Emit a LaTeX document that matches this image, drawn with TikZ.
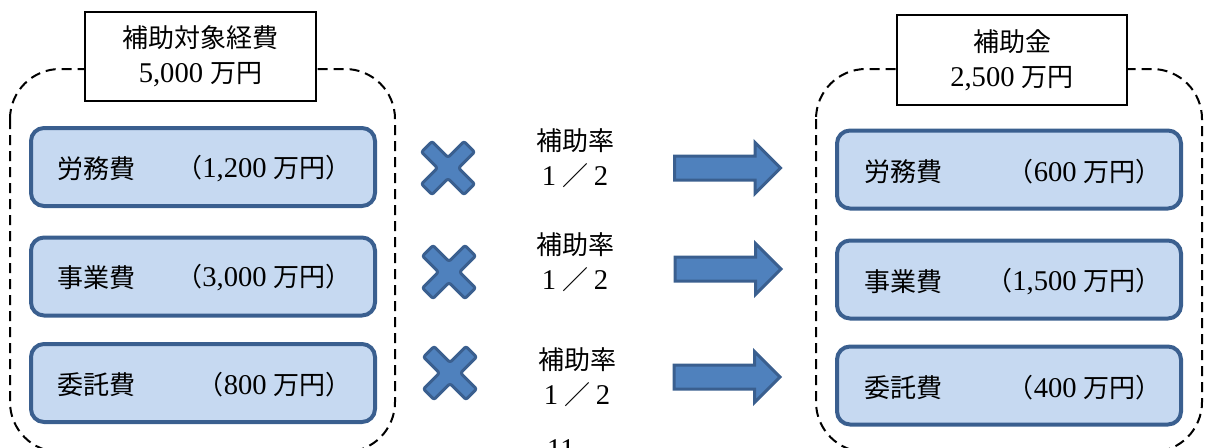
\documentclass[tikz,border=0pt]{standalone}
\usepackage{fontspec}
\setmainfont[Scale=1.1]{Liberation Serif}
\newfontfamily\cjk{Noto Sans CJK JP}
\definecolor{boxfill}{HTML}{C6D9F1}
\definecolor{boxline}{HTML}{3A5F8F}
\definecolor{shapefill}{HTML}{4F81BD}
\newcommand{\fw}[1]{\makebox[26pt]{#1}}
\begin{document}
\begin{tikzpicture}[x=1pt,y=-1pt,
  every node/.style={font=\fontsize{26}{35}\selectfont, inner sep=0pt},
  groupline/.style={draw=black, dash pattern=on 10pt off 6pt, line width=2pt, rounded corners=50pt},
  titlebox/.style={draw=black, fill=white, line width=1.8pt, minimum width=231pt, minimum height=89pt, align=center},
  itembox/.style={draw=boxline, fill=boxfill, line width=4pt, rounded corners=13pt, minimum width=344pt, minimum height=78pt},
  shapestyle/.style={draw=boxline, fill=shapefill, line width=3pt, line join=round, rounded corners=2pt},
  pics/mulmark/.style={code={
    \draw[shapestyle, rotate=45] (7.5,30) -- (7.5,7.5) -- (30,7.5) -- (30,-7.5) -- (7.5,-7.5) -- (7.5,-30)
      -- (-7.5,-30) -- (-7.5,-7.5) -- (-30,-7.5) -- (-30,7.5) -- (-7.5,7.5) -- (-7.5,30) -- cycle;}},
  pics/fatarrow/.style={code={
    \draw[shapestyle, rounded corners=0pt, line join=miter] (-53,-12) -- (27.5,-12) -- (27.5,-25.5) -- (53,0)
      -- (27.5,25.5) -- (27.5,12) -- (-53,12) -- cycle;}}
]
\useasboundingbox (0,0) rectangle (1212,447);
\clip (0,0) rectangle (1212,447);

% left group
\draw[groupline] (10,69) rectangle (395,452);
\node[titlebox] (ltitle) at (200.5,56.5) {{\cjk 補助対象経費}\\5,000 {\cjk 万円}};
\node[itembox] (l1) at (203,167) {};
\node[itembox] (l2) at (203,276.5) {};
\node[itembox] (l3) at (203,383) {};
\node[anchor=west] (l1a) at (57,169) {\cjk 労務費};
\node[anchor=east] (l1b) at (352,169) {{\cjk （}1,200 {\cjk 万円）}};
\node[anchor=west] (l2a) at (57,278) {\cjk 事業費};
\node[anchor=east] (l2b) at (352,278) {{\cjk （}3,000 {\cjk 万円）}};
\node[anchor=west] (l3a) at (57,385) {\cjk 委託費};
\node[anchor=east] (l3b) at (352,385) {{\cjk （}800 {\cjk 万円）}};

% multiply marks
\pic (m1) at (448,168) {mulmark};
\pic (m2) at (449,272) {mulmark};
\pic (m3) at (450,373) {mulmark};

% rates
\node[align=center] (r1) at (575,158) {{\cjk 補助率}\\\fw{1}{\cjk ／}\fw{2}};
\node[align=center] (r2) at (575,262) {{\cjk 補助率}\\\fw{1}{\cjk ／}\fw{2}};
\node[align=center] (r3) at (577,377) {{\cjk 補助率}\\\fw{1}{\cjk ／}\fw{2}};

% arrows
\pic (a1) at (727.5,168) {fatarrow};
\pic (a2) at (728,269) {fatarrow};
\pic (a3) at (727,377) {fatarrow};

% right group
\draw[groupline] (816,69) rectangle (1202,452);
\node[titlebox, minimum width=230pt, minimum height=90pt] (rtitle) at (1012,60) {{\cjk 補助金}\\2,500 {\cjk 万円}};
\node[itembox] (g1) at (1009,169.5) {};
\node[itembox] (g2) at (1009,279.5) {};
\node[itembox] (g3) at (1009,385.5) {};
\node[anchor=west] (g1a) at (864,172) {\cjk 労務費};
\node[anchor=east] (g1b) at (1162,172) {{\cjk （}600 {\cjk 万円）}};
\node[anchor=west] (g2a) at (864,282) {\cjk 事業費};
\node[anchor=east] (g2b) at (1162,282) {{\cjk （}1,500 {\cjk 万円）}};
\node[anchor=west] (g3a) at (864,388) {\cjk 委託費};
\node[anchor=east] (g3b) at (1162,388) {{\cjk （}400 {\cjk 万円）}};

% page number (cut off)
\node[anchor=base] (pg) at (561,458) {11};
\end{tikzpicture}
\end{document}
